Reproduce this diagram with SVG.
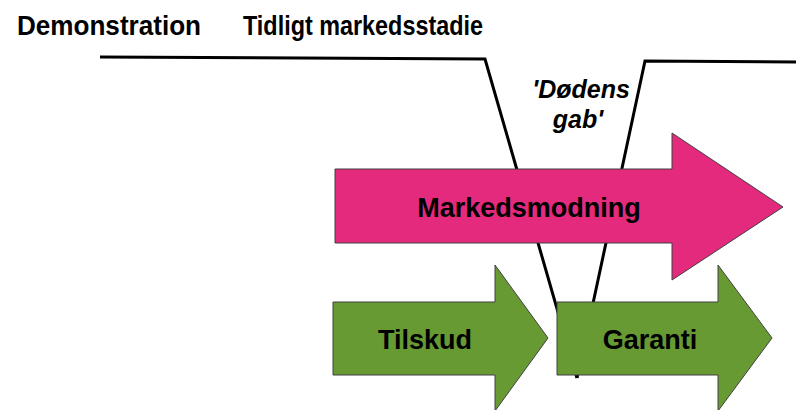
<svg xmlns="http://www.w3.org/2000/svg" width="796" height="410" viewBox="0 0 796 410">
<style>
text{font-family:"Liberation Sans",Arial,sans-serif;font-weight:bold;fill:#000}
.hdr{font-size:28px}
.lbl{font-size:27px;text-anchor:middle}
.gap{font-size:25px;font-style:italic;text-anchor:middle}
.conn{fill:none;stroke:#000;stroke-width:3;stroke-linejoin:miter}
.pink{fill:#E42A7C;stroke:#404040;stroke-width:1}
.green{fill:#689A34;stroke:#404040;stroke-width:1}
</style>
<rect width="796" height="410" fill="#fff"/>
<g id="headers">
<text class="hdr" x="17" y="35" textLength="184" lengthAdjust="spacingAndGlyphs">Demonstration</text>
<text class="hdr" x="243" y="35" textLength="240" lengthAdjust="spacingAndGlyphs">Tidligt markedsstadie</text>
</g>
<g id="connectors">
<polyline class="conn" points="100,57 485,59 577,378"/>
<polyline class="conn" points="796,62 645,61 577,378"/>
</g>
<g id="gap-label">
<text class="gap" x="581" y="98">'Dødens</text>
<text class="gap" x="578" y="128">gab'</text>
</g>
<g id="markedsmodning">
<polygon class="pink" points="335,169 672,169 672,133 783,207 672,280 672,243 335,243"/>
<text class="lbl" x="529" y="217">Markedsmodning</text>
</g>
<g id="tilskud">
<polygon class="green" points="333,302 495,302 495,265 548,338 495,411 495,375 333,375"/>
<text class="lbl" x="425" y="349">Tilskud</text>
</g>
<g id="garanti">
<polygon class="green" points="557,302 718,302 718,265 772,338 718,411 718,375 557,375"/>
<text class="lbl" x="650" y="349">Garanti</text>
</g>
</svg>
